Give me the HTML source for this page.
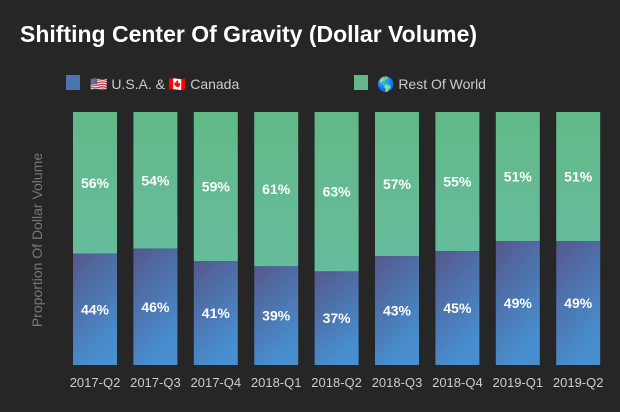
<!DOCTYPE html>
<html><head><meta charset="utf-8"><style>
body{margin:0;background:#262626;width:620px;height:407px;overflow:hidden;font-family:"Liberation Sans","DejaVu Sans",sans-serif}
</style></head><body>
<svg width="620" height="407">
<defs>
<linearGradient id="gb" x1="0" y1="0" x2="0.4" y2="1"><stop offset="0" stop-color="#55588c"/><stop offset="1" stop-color="#478fd0"/></linearGradient>
<linearGradient id="gg" x1="0" y1="0" x2="0" y2="1"><stop offset="0" stop-color="#62b987"/><stop offset="1" stop-color="#65bc9c"/></linearGradient>
</defs>
<rect width="620" height="407" fill="#262626"/>
<text x="20" y="42" fill="#fff" font-size="23" font-weight="bold">Shifting Center Of Gravity (Dollar Volume)</text>
<g><rect x="66" y="75" width="14" height="15" fill="#4a73b0"/><text x="90" y="89" fill="#ccc" font-size="14">🇺🇸 U.S.A. &amp; 🇨🇦 Canada</text></g>
<g><rect x="354" y="75" width="14" height="15" fill="#62b987"/><text x="377" y="89" fill="#ccc" font-size="14">🌎 Rest Of World</text></g>
<text transform="translate(42,240) rotate(-90)" text-anchor="middle" fill="#777" font-size="14">Proportion Of Dollar Volume</text>
<g id="bars"></g>
</svg>
<script>
const categories=["2017-Q2","2017-Q3","2017-Q4","2018-Q1","2018-Q2","2018-Q3","2018-Q4","2019-Q1","2019-Q2"];
const usaValues=[44,46,41,39,37,43,45,49,49];
const restValues=[56,54,59,61,63,57,55,51,51];
const plotTop=112,plotBottom=365,x0=73,step=60.4,bw=44;
const yScale=v=>plotBottom-(v/100)*(plotBottom-plotTop);
const g=document.getElementById('bars');
const ns="http://www.w3.org/2000/svg";
function mk(t,a){const e=document.createElementNS(ns,t);for(const k in a)e.setAttribute(k,a[k]);return e;}
categories.forEach((c,i)=>{
 const x=x0+i*step,u=usaValues[i],r=restValues[i];
 const rb=mk('rect',{x:x,y:yScale(u+r),width:bw,height:yScale(u)-yScale(u+r),fill:'url(#gg)'});
 
 
 g.appendChild(rb);
 const ub=mk('rect',{x:x,y:yScale(u),width:bw,height:plotBottom-yScale(u),fill:'url(#gb)'});
 
 
 g.appendChild(ub);
 const t1=mk('text',{x:x+bw/2,y:(yScale(u)+plotBottom)/2+5,'text-anchor':'middle',fill:'#fff','font-size':'14','font-weight':'bold'});
 t1.textContent=u+'%';
 
 
 g.appendChild(t1);
 const t2=mk('text',{x:x+bw/2,y:(yScale(u+r)+yScale(u))/2+5,'text-anchor':'middle',fill:'#fff','font-size':'14','font-weight':'bold'});
 t2.textContent=r+'%';
 
 
 g.appendChild(t2);
 const xl=mk('text',{x:x+bw/2,y:387,'text-anchor':'middle',fill:'#ccc','font-size':'13'});
 xl.textContent=c;
 
 
 g.appendChild(xl);
});
</script>
</body></html>
